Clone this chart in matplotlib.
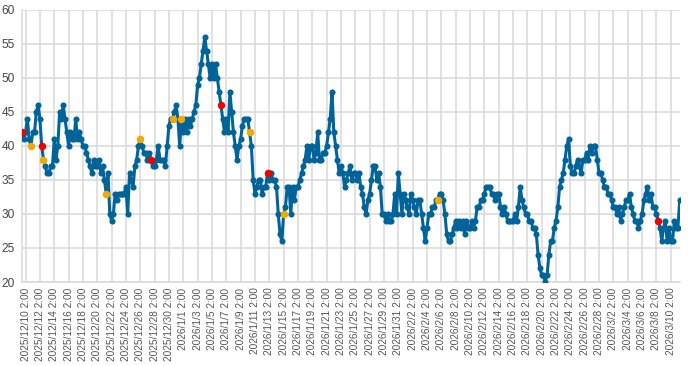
import numpy as np
import pandas as pd
import matplotlib
matplotlib.use("Agg")
import matplotlib.pyplot as plt

# readings every 6 hours, starting 2025-12-09 14:00
start = "2025-12-09 14:00"
values = [
    42, 41,
    42, 44, 41, 40,  42, 42, 45, 46,  44, 40, 38, 37,  36, 36, 37, 37,
    41, 38, 40, 45,  44, 46, 44, 42,  40, 42, 41, 41,  44, 41, 42, 41,
    40, 40, 39, 38,  37, 36, 38, 37,  37, 38, 36, 37,  35, 33, 36, 30,
    29, 30, 33, 32,  33, 33, 33, 33,  34, 30, 36, 35,  34, 37, 38, 40,
    41, 40, 39, 39,  38, 39, 38, 37,  37, 38, 40, 38,  38, 38, 37, 40,
    43, 44, 44, 45,  46, 44, 40, 44,  42, 44, 42, 44,  43, 44, 45, 46,
    49, 50, 52, 54,  56, 54, 52, 50,  52, 50, 52, 50,  48, 46, 44, 42,
    44, 42, 48, 45,  42, 40, 38, 40,  41, 43, 44, 44,  44, 42, 40, 35,
    33, 34, 35, 35,  33, 34, 34, 36,  35, 36, 35, 35,  34, 30, 27, 26,
    30, 31, 34, 34,  30, 34, 32, 34,  34, 35, 36, 37,  38, 40, 38, 40,
    40, 38, 39, 42,  38, 38, 39, 39,  40, 42, 44, 48,  42, 40, 38, 36,
    37, 36, 34, 35,  36, 37, 35, 36,  36, 35, 36, 34,  33, 31, 30, 32,
    33, 35, 37, 37,  35, 36, 34, 30,  30, 29, 30, 29,  29, 30, 33, 30,
    36, 33, 30, 33,  32, 31, 30, 33,  32, 31, 30, 32,  32, 30, 28, 26,
    28, 30, 30, 31,  31, 32, 32, 33,  33, 32, 30, 27,  26, 26, 27, 28,
    29, 28, 29, 28,  29, 27, 29, 28,  28, 29, 28, 29,  31, 31, 32, 32,
    33, 34, 34, 34,  33, 33, 32, 33,  33, 31, 30, 31,  30, 29, 29, 29,
    29, 30, 29, 31,  34, 32, 31, 30,  30, 29, 29, 28,  28, 27, 24, 22,
    21, 21, 20, 21,  24, 26, 26, 28,  29, 31, 34, 35,  36, 38, 40, 41,
    37, 36, 36, 37,  38, 37, 36, 38,  38, 39, 38, 40,  39, 40, 40, 38,
    36, 36, 35, 34,  34, 33, 33, 32,  31, 31, 30, 31,  29, 30, 31, 32,
    32, 33, 31, 30,  29, 29, 28, 29,  30, 32, 33, 34,  32, 33, 31, 31,
    30, 29, 28, 26,  28, 29, 26, 28,  26, 26, 29, 28,  28, 32,
]

orange_times = ["2025-12-10 20:00", "2025-12-12 14:00", "2025-12-21 08:00",
                "2025-12-26 02:00", "2025-12-30 14:00", "2025-12-31 20:00",
                "2026-01-10 08:00", "2026-01-15 02:00", "2026-02-05 14:00"]
red_times = ["2025-12-09 14:00", "2025-12-12 08:00", "2025-12-27 14:00",
             "2026-01-06 08:00", "2026-01-12 20:00", "2026-03-08 08:00"]

tick_start = "2025-12-10 02:00"
tick_end = "2026-03-10 02:00"

times = pd.date_range(start, periods=len(values), freq="6h")
series = pd.Series(values, index=times)

plt.rcParams['font.family'] = ['Liberation Sans', 'DejaVu Sans']

fig = plt.figure(figsize=(7, 3.66), dpi=100)
ax = fig.add_axes([0.0314, 0.2295, 0.9396, 0.7435])

blue = "#00649a"
ax.plot(series.index, series.values, color=blue, linewidth=2.2,
        marker="o", markersize=4.4, markeredgewidth=0, zorder=3)

ot = pd.to_datetime(orange_times)
rt = pd.to_datetime(red_times)
ax.plot(ot, series.loc[ot].values, linestyle="none", marker="o",
        markersize=5.4, markeredgewidth=0, color="#f2a900", zorder=4)
ax.plot(rt, series.loc[rt].values, linestyle="none", marker="o",
        markersize=5.4, markeredgewidth=0, color="#f20000", zorder=4)

ticks = pd.date_range(tick_start, tick_end, freq="2D")
ax.set_xticks(ticks)
ax.set_xticklabels([f"{t.year}/{t.month}/{t.day} {t.hour}:{t.minute:02d}" for t in ticks],
                   rotation=90, fontsize=7.3, color="#555555")
ax.set_xlim(times[0], times[-1])

ax.set_ylim(20, 60)
ax.set_yticks(np.arange(20, 61, 5))
ax.tick_params(axis="y", labelsize=8.6, labelcolor="#444444", length=0, pad=5)
ax.tick_params(axis="x", length=0, pad=4)

ax.grid(True, color="#d9d9d9", linewidth=1.1, zorder=0)
ax.set_axisbelow(True)
for side in ["top", "right"]:
    ax.spines[side].set_visible(False)
for side in ["left", "bottom"]:
    ax.spines[side].set_color("#d9d9d9")
    ax.spines[side].set_linewidth(1.1)

fig.savefig("out.png", dpi=100)
